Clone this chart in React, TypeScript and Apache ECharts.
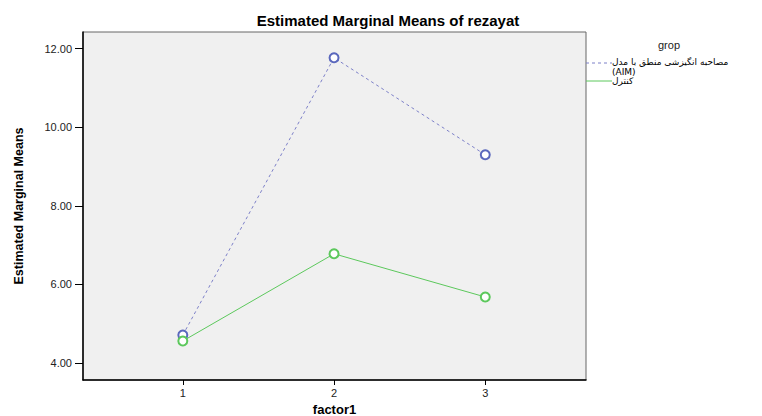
import React, { useEffect, useRef } from "react";
import * as echarts from "echarts";

const xValues = [1, 2, 3];
const xTicks = [1, 2, 3];
const yTicks = [4, 6, 8, 10, 12];
const seriesNames = ["مصاحبه انگیزشی منطق با مدل (AIM)", "کنترل"];
const legendLines = [["مصاحبه انگیزشی منطق با مدل", "(AIM)"], ["کنترل"]];
const aimValues = [4.71, 11.77, 9.3];
const controlValues = [4.56, 6.78, 5.68];

const FONT = "'Liberation Sans', Arial, 'DejaVu Sans', sans-serif";

export default function App() {
  const ref = useRef<HTMLDivElement>(null);
  useEffect(() => {
    if (!ref.current) return;
    document.body.style.margin = "0";
    const chart = echarts.init(ref.current, undefined, { renderer: "svg" });
    const legendX = 586;
    const legendYs = [63, 81];
    const textYs = [[62, 71.5], [81]];
    const colors = ["#7d80c8", "#5cc85c"];
    const dashes: any[] = [[3, 3], "solid"];
    chart.setOption({
      animation: false,
      backgroundColor: "#ffffff",
      title: {
        text: "Estimated Marginal Means of rezayat",
        left: 388,
        textAlign: "center",
        top: 13,
        padding: 0,
        textStyle: { fontFamily: FONT, fontSize: 15, fontWeight: "bold", color: "#000" },
      },
      grid: {
        left: 83,
        right: 176,
        top: 32,
        bottom: 36,
        outerBoundsMode: "none",
        containLabel: false,
        show: true,
        backgroundColor: "#f0f0f0",
        borderColor: "#666",
        borderWidth: 1,
      },
      xAxis: {
        type: "value",
        min: 0.34,
        max: 3.666,
        name: "factor1",
        nameLocation: "middle",
        nameGap: 22,
        nameTextStyle: { fontFamily: FONT, fontSize: 13, fontWeight: "bold", color: "#000" },
        axisLine: { show: true, lineStyle: { color: "#000", width: 1.5 } },
        axisTick: { show: true, customValues: xTicks, length: 5, lineStyle: { color: "#000" } },
        axisLabel: { customValues: xTicks, margin: 7, fontFamily: FONT, fontSize: 11, color: "#222" },
        splitLine: { show: false },
      },
      yAxis: {
        type: "value",
        min: 3.567,
        max: 12.425,
        name: "Estimated Marginal Means",
        nameLocation: "middle",
        nameGap: 58,
        nameTextStyle: {
          fontFamily: "'Liberation Sans Narrow', 'Liberation Sans', Arial, sans-serif",
          fontSize: 12.5,
          fontWeight: "bold",
          color: "#000",
        },
        axisLine: { show: true, lineStyle: { color: "#000", width: 1.5 } },
        axisTick: { show: true, customValues: yTicks, length: 8, lineStyle: { color: "#000" } },
        axisLabel: {
          customValues: yTicks,
          margin: 11,
          fontFamily: FONT,
          fontSize: 11,
          color: "#222",
          formatter: (v: number) => v.toFixed(2),
        },
        splitLine: { show: false },
      },
      series: [
        {
          name: seriesNames[0],
          type: "line",
          data: xValues.map((x, i) => [x, aimValues[i]]),
          symbol: "emptyCircle",
          symbolSize: 9,
          lineStyle: { color: colors[0], width: 1, type: [3, 3] },
          itemStyle: { color: "#5b68bd", borderWidth: 1 },
        },
        {
          name: seriesNames[1],
          type: "line",
          data: xValues.map((x, i) => [x, controlValues[i]]),
          symbol: "emptyCircle",
          symbolSize: 9,
          lineStyle: { color: colors[1], width: 1 },
          itemStyle: { color: "#5cc85c", borderWidth: 1 },
        },
      ],
      graphic: [
        {
          type: "text",
          left: 658,
          top: 39,
          style: { text: "grop", fontFamily: FONT, fontSize: 11, fill: "#222" },
        },
        ...legendLines.flatMap((lines, i) => [
          {
            type: "line",
            shape: { x1: legendX, y1: legendYs[i], x2: legendX + 26, y2: legendYs[i] },
            style: { stroke: colors[i], lineWidth: 1, lineDash: dashes[i] === "solid" ? null : dashes[i] },
          },
          ...lines.map((line, j) => ({
            type: "text",
            x: legendX + 26,
            y: textYs[i][j],
            style: {
              text: line,
              fontFamily: "'DejaVu Sans', 'Liberation Sans', sans-serif",
              fontSize: 9,
              lineHeight: 9,
              fill: "#000",
              align: "left",
              verticalAlign: "middle",
            },
          })),
        ]),
      ],
    });
    return () => chart.dispose();
  }, []);
  return <div ref={ref} style={{ width: 762, height: 416 }} />;
}
